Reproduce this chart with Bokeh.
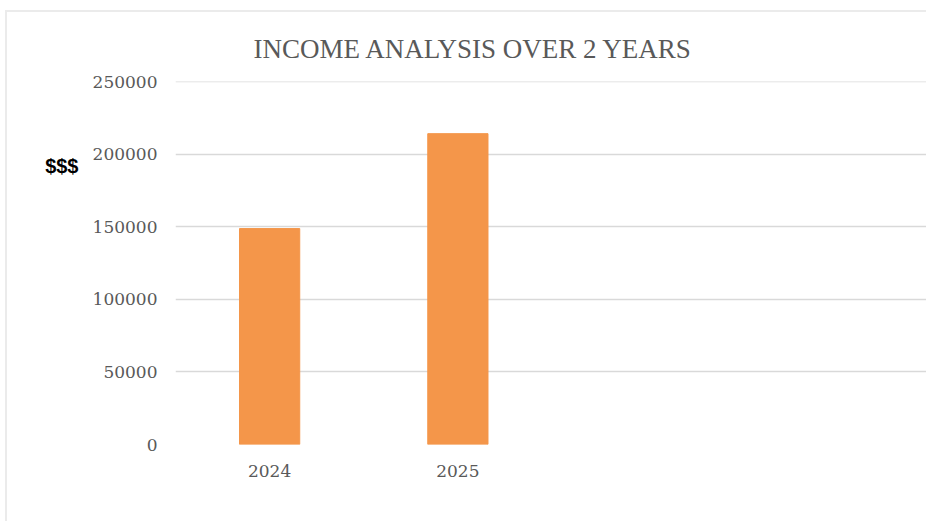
from bokeh.plotting import figure
from bokeh.models import Range1d, FactorRange, FixedTicker, NumeralTickFormatter, LinearAxis, Title
from bokeh.embed import file_html
from bokeh.resources import INLINE

# ---- data ----
years = ["2024", "2025"]
income = [148800, 214200]
slots = ["2024", "2025", " ", "  "]          # the chart keeps two empty category slots
y_ticks = [0, 50000, 100000, 150000, 200000, 250000]
title_text = "INCOME ANALYSIS OVER 2 YEARS"
axis_title = "$$$"
axis_title_at = 192000

BAR = "#F4964A"
GRID = "#d9d9d9"
TXT = "#595959"

p = figure(width=921, height=511, output_backend="svg", toolbar_location=None,
           x_range=FactorRange(factors=slots, range_padding=0),
           y_range=Range1d(0, 250150),
           min_border_left=168, min_border_right=0, min_border_top=69, min_border_bottom=79)
p.styles = {"margin-left": "5px", "margin-top": "10px",
            "border-left": "2px solid #ebebeb", "border-top": "2px solid #ebebeb"}

p.vbar(x=years, top=income, width=0.32, fill_color=BAR, line_color=BAR)

p.outline_line_color = None
p.background_fill_color = "white"
p.border_fill_color = "white"
p.xgrid.grid_line_color = None
p.ygrid.grid_line_color = GRID
p.ygrid.grid_line_width = 1.5
p.ygrid.ticker = FixedTicker(ticks=y_ticks)

p.yaxis.ticker = FixedTicker(ticks=y_ticks)
p.yaxis.formatter = NumeralTickFormatter(format="0")
p.yaxis.axis_line_color = None
p.yaxis.major_tick_line_color = None
p.yaxis.minor_tick_line_color = None
p.yaxis.major_tick_out = 0
p.yaxis.major_tick_in = 0
p.yaxis.major_label_standoff = 18
p.yaxis.major_label_text_font = "DejaVu Serif"
p.yaxis.major_label_text_font_size = "17px"
p.yaxis.major_label_text_color = TXT

p.xaxis.axis_line_color = None
p.xaxis.major_tick_line_color = None
p.xaxis.major_tick_out = 0
p.xaxis.major_tick_in = 0
p.xaxis.major_label_standoff = 16
p.xaxis.major_label_text_font = "DejaVu Serif"
p.xaxis.major_label_text_font_size = "17px"
p.xaxis.major_label_text_color = TXT

# "$$$" axis title, placed as an extra outer left axis label
ax2 = LinearAxis(ticker=FixedTicker(ticks=[axis_title_at]),
                 major_label_overrides={axis_title_at: axis_title})
ax2.axis_line_color = None
ax2.major_tick_line_color = None
ax2.minor_tick_line_color = None
ax2.major_tick_out = 0
ax2.major_tick_in = 0
ax2.major_label_standoff = 11
ax2.major_label_text_font = "Liberation Sans"
ax2.major_label_text_font_style = "bold"
ax2.major_label_text_font_size = "20px"
ax2.major_label_text_color = "#000000"
p.add_layout(ax2, "left")

t = Title(text=title_text, align="left", offset=78, standoff=36,
          text_font="Liberation Serif", text_font_size="27px",
          text_font_style="normal", text_color=TXT)
p.add_layout(t, "above")

open("out.html", "w").write(file_html(p, INLINE))
